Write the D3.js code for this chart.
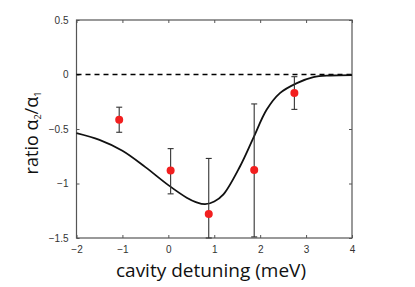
<!DOCTYPE html>
<html><head><meta charset="utf-8">
<script src="https://cdn.jsdelivr.net/npm/d3@7"></script>
<style>body{margin:0;background:#fff}svg{display:block}</style>
</head><body><div id="c"></div>
<script>
// Data
const pointX = [-1.07, 0.05, 0.88, 1.87, 2.745];
const pointY = [-0.415, -0.88, -1.28, -0.875, -0.17];
const errLow = [-0.53, -1.095, -1.5, -1.49, -0.32];
const errHigh = [-0.30, -0.68, -0.77, -0.27, -0.02];
const curveX = [-2, -1.5, -1.0, -0.5, 0, 0.4, 0.6, 0.8, 1.0, 1.2, 1.56, 1.85, 2.14, 2.43, 2.8, 3.16, 3.52, 4];
const curveY = [-0.538, -0.60, -0.70, -0.85, -1.015, -1.13, -1.17, -1.19, -1.165, -1.10, -0.844, -0.584, -0.324, -0.171, -0.079, -0.024, -0.009, -0.005];
const xTicks = [-2, -1, 0, 1, 2, 3, 4];
const yTicks = [0.5, 0, -0.5, -1, -1.5];

const W = 415, H = 287;
const m = {l: 76.5, r: 352, t: 20, b: 238};
const svg = d3.select("#c").append("svg").attr("width", W).attr("height", H);
const x = d3.scaleLinear().domain([-2, 4]).range([m.l, m.r]);
const y = d3.scaleLinear().domain([-1.5, 0.5]).range([m.b, m.t]);

const axisColor = "#555";
const font = "Liberation Sans, Arial, sans-serif";

// frame
svg.append("rect").attr("x", m.l).attr("y", m.t).attr("width", m.r - m.l).attr("height", m.b - m.t)
  .attr("fill", "none").attr("stroke", axisColor).attr("stroke-width", 1.2);

// axes with inward ticks
const tk = 3;
const gB = svg.append("g").attr("transform", `translate(0,${m.b})`)
  .call(d3.axisBottom(x).tickValues(xTicks).tickSizeInner(-tk).tickSizeOuter(0).tickPadding(8).tickFormat(d3.format("")));
const gT = svg.append("g").attr("transform", `translate(0,${m.t})`)
  .call(d3.axisTop(x).tickValues(xTicks).tickSizeInner(-tk).tickSizeOuter(0).tickFormat(""));
const gL = svg.append("g").attr("transform", `translate(${m.l},0)`)
  .call(d3.axisLeft(y).tickValues(yTicks).tickSizeInner(-tk).tickSizeOuter(0).tickPadding(8).tickFormat(d3.format("")));
const gR = svg.append("g").attr("transform", `translate(${m.r},0)`)
  .call(d3.axisRight(y).tickValues(yTicks).tickSizeInner(-tk).tickSizeOuter(0).tickFormat(""));
[gB, gT, gL, gR].forEach(g => {
  g.select(".domain").remove();
  g.selectAll("line").attr("stroke", axisColor).attr("stroke-width", 1);
  g.selectAll("text").attr("fill", "#333").attr("font-size", 10).attr("font-family", font);
});

// zero dashed line
svg.append("line").attr("x1", x(-2)).attr("x2", x(4)).attr("y1", y(0)).attr("y2", y(0))
  .attr("stroke", "#000").attr("stroke-width", 1.3).attr("stroke-dasharray", "5,4");

// curve
const curveData = curveX.map((d, i) => [d, curveY[i]]);
svg.append("path").datum(curveData)
  .attr("d", d3.line().x(d => x(d[0])).y(d => y(d[1])).curve(d3.curveCatmullRom.alpha(0.5)))
  .attr("fill", "none").attr("stroke", "#111").attr("stroke-width", 1.8);

// error bars
const pts = pointX.map((d, i) => ({x: d, y: pointY[i], lo: errLow[i], hi: errHigh[i]}));
const eb = svg.append("g");
pts.forEach(p => {
  eb.append("line").attr("x1", x(p.x)).attr("x2", x(p.x)).attr("y1", y(p.lo)).attr("y2", y(p.hi))
    .attr("stroke", "#333").attr("stroke-width", 1.1);
  [p.lo, p.hi].forEach(v => eb.append("line").attr("x1", x(p.x) - 3).attr("x2", x(p.x) + 3)
    .attr("y1", y(v)).attr("y2", y(v)).attr("stroke", "#333").attr("stroke-width", 1.1));
});
svg.append("g").selectAll("circle").data(pts).join("circle")
  .attr("cx", d => x(d.x)).attr("cy", d => y(d.y)).attr("r", 4).attr("fill", "#f21f1f");

// titles
svg.append("text").attr("x", 211).attr("y", 277).attr("text-anchor", "middle")
  .attr("font-family", "Open Sans, sans-serif").attr("font-size", 19).attr("fill", "#111")
  .text("cavity detuning (meV)");
const yt = svg.append("text").attr("transform", "translate(38,133) rotate(-90)").attr("text-anchor", "middle")
  .attr("font-family", "Open Sans, sans-serif").attr("font-size", 18).attr("fill", "#111");
yt.append("tspan").text("ratio α");
yt.append("tspan").attr("font-size", 9).attr("dy", 3).text("2");
yt.append("tspan").attr("dy", -3).text("/α");
yt.append("tspan").attr("font-size", 9).attr("dy", 3).text("1");
</script></body></html>
